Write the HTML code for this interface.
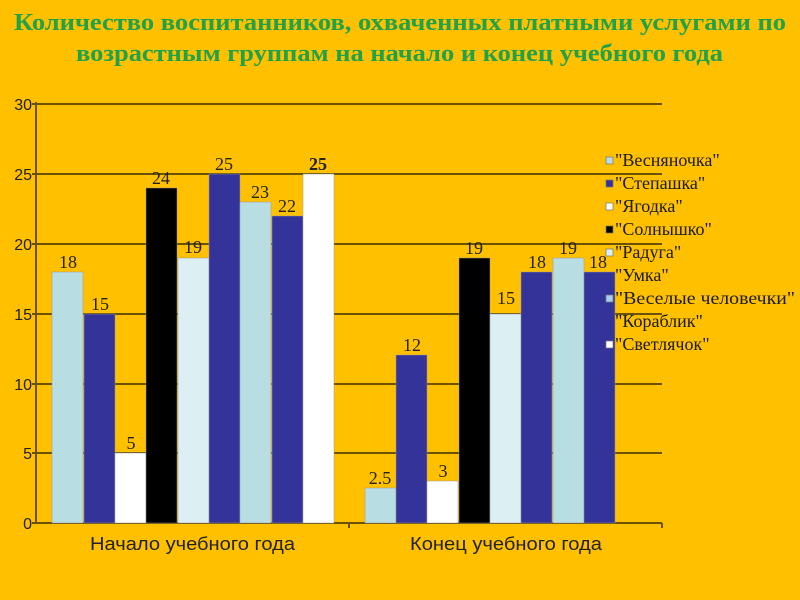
<!DOCTYPE html>
<html><head><meta charset="utf-8"><style>
html,body{margin:0;padding:0;background:#ffc000;}
svg{display:block}
</style></head><body>
<svg width="800" height="600" viewBox="0 0 800 600" xmlns="http://www.w3.org/2000/svg">
<rect width="800" height="600" fill="#ffc000"/>
<g font-family="Liberation Serif, serif" font-weight="bold" font-size="24" fill="#1fa24a">
<text x="14" y="30" textLength="772" lengthAdjust="spacingAndGlyphs">Количество воспитанников, охваченных платными услугами по</text>
<text x="76" y="61" textLength="647" lengthAdjust="spacingAndGlyphs">возрастным группам на начало и конец учебного года</text>
</g>
<g stroke="#6b5200" stroke-width="2">
<line x1="32" y1="104" x2="662" y2="104"/>
<line x1="32" y1="174" x2="662" y2="174"/>
<line x1="32" y1="244" x2="662" y2="244"/>
<line x1="32" y1="314" x2="662" y2="314"/>
<line x1="32" y1="384" x2="662" y2="384"/>
<line x1="32" y1="453" x2="662" y2="453"/>
<line x1="32" y1="523" x2="662" y2="523"/>
<line x1="36" y1="102" x2="36" y2="524"/>
<line x1="349" y1="523" x2="349" y2="528"/>
<line x1="662" y1="523" x2="662" y2="528"/>
</g>
<g font-family="Liberation Sans, sans-serif" font-size="16" fill="#222" text-anchor="end">
<text x="32" y="110">30</text><text x="32" y="180">25</text><text x="32" y="250">20</text>
<text x="32" y="320">15</text><text x="32" y="390">10</text><text x="32" y="459">5</text>
<text x="32" y="529">0</text>
</g>
<g stroke="#999" stroke-width="0.5">
<rect x="52" y="272" width="31" height="251" fill="#b8dde3"/>
<rect x="84" y="314" width="31" height="209" fill="#333399"/>
<rect x="115" y="453" width="31" height="70" fill="#ffffff"/>
<rect x="146" y="188" width="31" height="335" fill="#000000"/>
<rect x="178" y="258" width="31" height="265" fill="#dcf0f3"/>
<rect x="209" y="174" width="31" height="349" fill="#333399"/>
<rect x="240" y="202" width="31" height="321" fill="#b8dde3"/>
<rect x="272" y="216" width="31" height="307" fill="#333399"/>
<rect x="303" y="174" width="31" height="349" fill="#ffffff"/>
<rect x="365" y="488" width="31" height="35" fill="#b8dde3"/>
<rect x="396" y="355" width="31" height="168" fill="#333399"/>
<rect x="427" y="481" width="31" height="42" fill="#ffffff"/>
<rect x="459" y="258" width="31" height="265" fill="#000000"/>
<rect x="490" y="314" width="31" height="209" fill="#dcf0f3"/>
<rect x="521" y="272" width="31" height="251" fill="#333399"/>
<rect x="553" y="258" width="31" height="265" fill="#b8dde3"/>
<rect x="584" y="272" width="31" height="251" fill="#333399"/>
</g>
<g font-family="Liberation Serif, serif" font-size="18" fill="#222" text-anchor="middle">
<text x="68" y="268">18</text><text x="100" y="310">15</text><text x="131" y="449">5</text>
<text x="161" y="184">24</text><text x="193" y="253">19</text><text x="224" y="170">25</text>
<text x="260" y="198">23</text><text x="287" y="212">22</text><text x="318" y="170" font-weight="bold">25</text>
<text x="380" y="484">2.5</text><text x="412" y="351">12</text><text x="443" y="477">3</text>
<text x="474" y="254">19</text><text x="506" y="304">15</text><text x="537" y="268">18</text>
<text x="568" y="254">19</text><text x="598" y="268">18</text>
</g>
<g font-family="Liberation Sans, sans-serif" font-size="18" fill="#222">
<text x="90" y="550" textLength="205" lengthAdjust="spacingAndGlyphs">Начало учебного года</text>
<text x="410" y="550" textLength="192" lengthAdjust="spacingAndGlyphs">Конец учебного года</text>
</g>
<g stroke="#777" stroke-width="0.7">
<rect x="606" y="157" width="7" height="7" fill="#b8dde3"/>
<rect x="606" y="180" width="7" height="7" fill="#333399"/>
<rect x="606" y="203" width="7" height="7" fill="#ffffff"/>
<rect x="606" y="226" width="7" height="7" fill="#000000"/>
<rect x="606" y="249" width="7" height="7" fill="#dcf0f3"/>
<rect x="606" y="295" width="7" height="7" fill="#a8cde8"/>
<rect x="606" y="341" width="7" height="7" fill="#ffffff"/>
</g>
<g font-family="Liberation Serif, serif" font-size="18" fill="#1a1a1a">
<text x="615" y="166">"Весняночка"</text>
<text x="615" y="189">"Степашка"</text>
<text x="615" y="212">"Ягодка"</text>
<text x="615" y="235">"Солнышко"</text>
<text x="615" y="258">"Радуга"</text>
<text x="615" y="281">"Умка"</text>
<text x="615" y="304" textLength="180" lengthAdjust="spacingAndGlyphs">"Веселые человечки"</text>
<text x="615" y="327">"Кораблик"</text>
<text x="615" y="350">"Светлячок"</text>
</g>
</svg>
</body></html>
